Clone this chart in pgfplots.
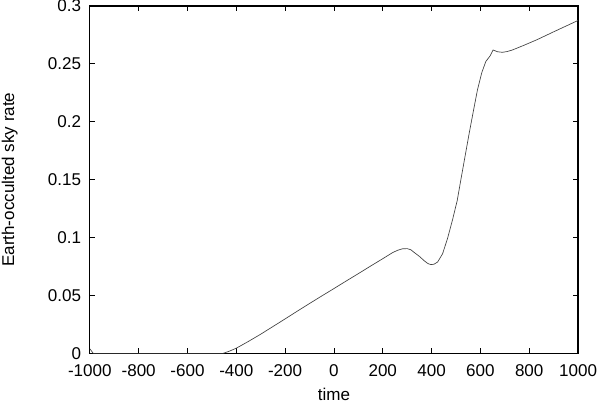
\documentclass[border=0pt]{standalone}
\usepackage{fontspec}
\setmainfont{Liberation Sans}
\usepackage{pgfplots}
\pgfplotsset{compat=1.18}
\begin{document}
\begin{tikzpicture}
\useasboundingbox (-67.5pt,-38.25pt) rectangle (383.25pt,265.5pt);
\begin{axis}[
  at={(0,0)}, anchor=south west,
  scale only axis,
  width=366.75pt, height=261pt,
  xmin=-1000, xmax=1000, ymin=0, ymax=0.3,
  xtick={-1000,-800,...,1000},
  ytick={0,0.05,...,0.3},
  yticklabels={0,0.05,0.1,0.15,0.2,0.25,0.3},
  xticklabels={-1000,-800,-600,-400,-200,0,200,400,600,800,1000},
  tick align=inside,
  major tick length=4pt,
  tick style={black, line width=0.6pt},
  axis line style={line width=0.9pt},
  font=\fontsize{12.8}{15}\selectfont,
  /pgf/number format/assume math mode=true,
  xticklabel style={yshift=-4.5pt},
  yticklabel style={xshift=-3pt},
  xlabel={time},
  ylabel={Earth-occulted sky rate},
  xlabel style={at={(axis description cs:0.5,-0.118)}, anchor=center},
  ylabel style={at={(axis description cs:-0.164,0.5)}, anchor=center},
]
\addplot[color=black!75, line width=0.5pt] coordinates {
(-1000,0.004) (-986,0) (-455,0) (-430,0.0018) (-400,0.0045) (-350,0.0104)
(-300,0.0166) (-250,0.0232) (-200,0.0298) (-150,0.0365) (-100,0.0431)
(-50,0.0496) (0,0.0560) (50,0.0625) (100,0.0689) (150,0.0754) (200,0.0818)
(240,0.0870) (260,0.0890) (280,0.0903) (300,0.0905) (315,0.0895) (330,0.0870)
(350,0.0838) (370,0.0800) (385,0.0776) (397,0.0767) (410,0.0770) (425,0.0790)
(445,0.0860) (465,0.0990) (486,0.1155) (505,0.1320) (520,0.1500) (537,0.1700)
(554,0.1900) (571,0.2090) (588,0.2276) (605,0.2420) (622,0.2520) (640,0.2570)
(652,0.2620) (670,0.2605) (690,0.2600) (710,0.2607) (731,0.2620) (780,0.2662)
(833,0.2710) (900,0.2777) (1000,0.2875)
};
\end{axis}
\end{tikzpicture}
\end{document}
